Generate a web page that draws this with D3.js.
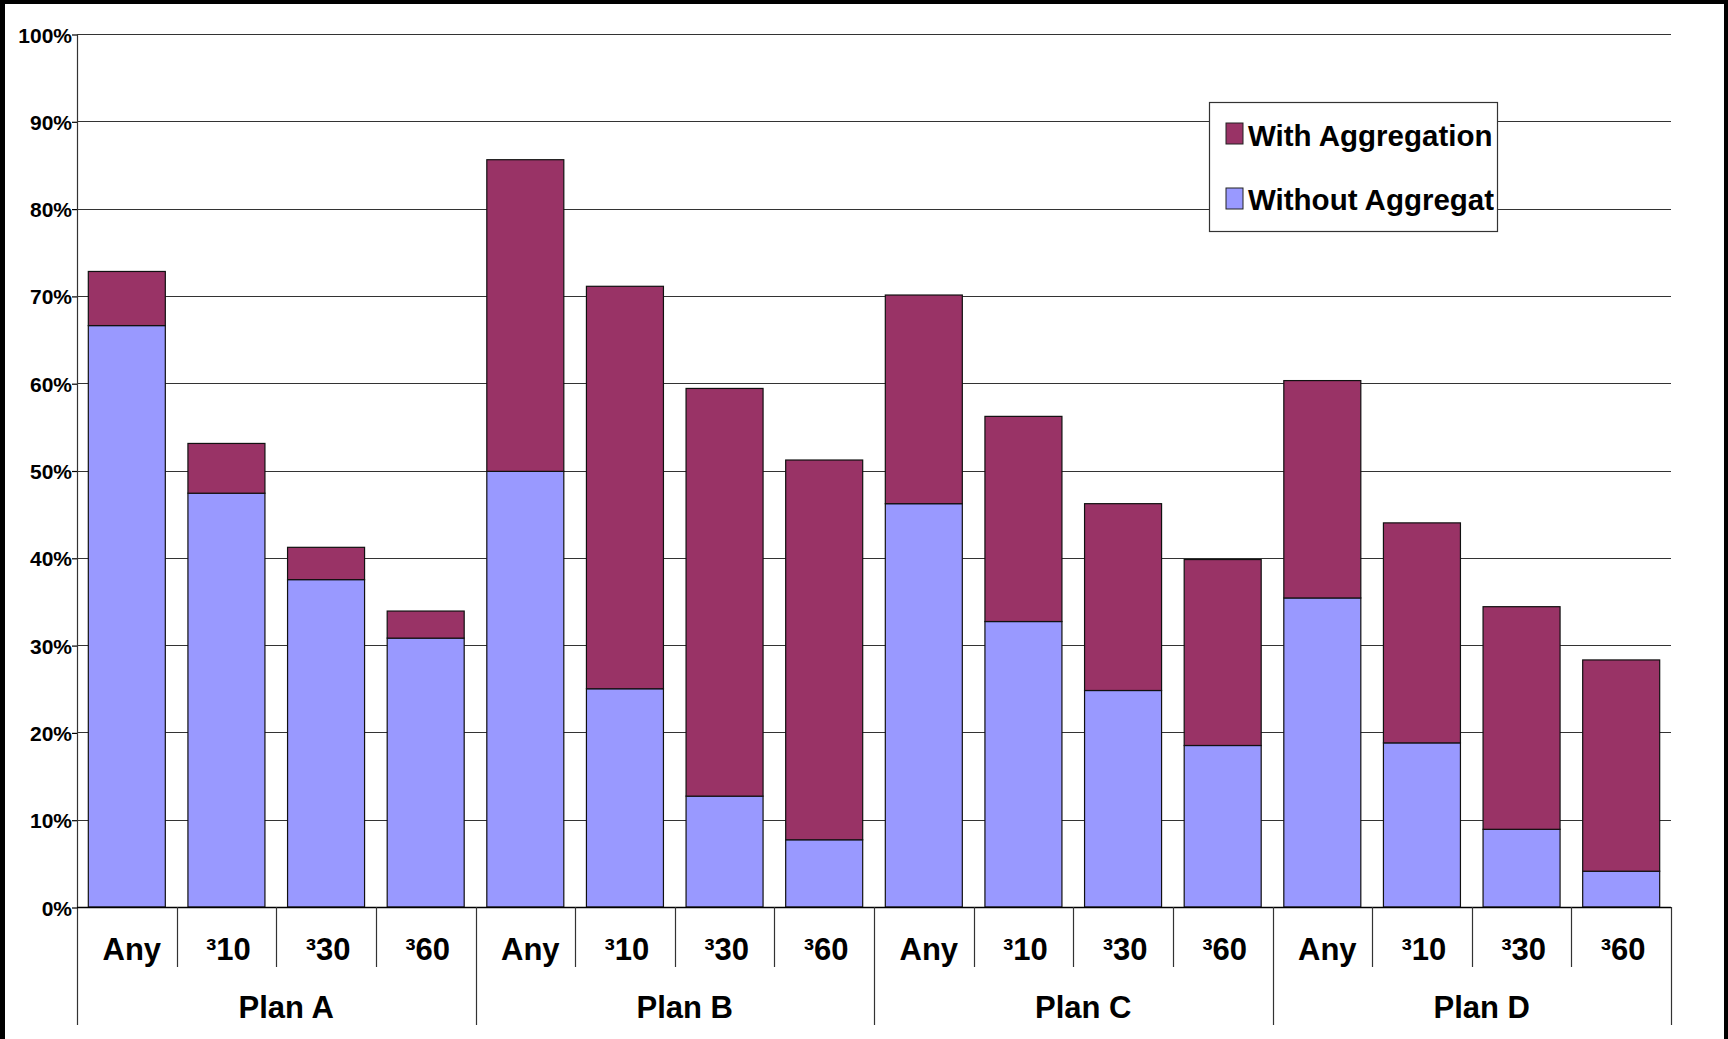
<!DOCTYPE html>
<html>
<head>
<meta charset="utf-8">
<script src="https://cdn.jsdelivr.net/npm/d3@7"></script>
<style>
  body { margin: 0; background: #fff; }
  svg { display: block; font-family: 'Liberation Sans', Arial, sans-serif; font-weight: bold; }
</style>
</head>
<body>
<svg id="chart"></svg>
<script>
var plans = ['Plan A', 'Plan B', 'Plan C', 'Plan D'];
var thresholds = ['Any', '³10', '³30', '³60'];
// percent values per bar, in plan order then threshold order
var withoutAgg = [66.6, 47.4, 37.5, 30.8,  49.9, 25.0, 12.7, 7.7,  46.2, 32.7, 24.8, 18.5,  35.4, 18.8, 8.9, 4.1];
var withAgg    = [6.2, 5.7, 3.7, 3.1,  35.7, 46.1, 46.7, 43.5,  23.9, 23.5, 21.4, 21.3,  24.9, 25.2, 25.5, 24.2];
var yTicks = [0, 10, 20, 30, 40, 50, 60, 70, 80, 90, 100];
var seriesNames = ['With Aggregation', 'Without Aggregation'];
var colors = { without: '#9999ff', with: '#993366' };

var W = 1728, H = 1039;
var plotLeft = 77, plotRight = 1671, plotTop = 34, plotBottom = 907;

var svg = d3.select('#chart').attr('width', W).attr('height', H);

// outer frame (black strips at left, top, right)
svg.append('rect').attr('x', 0).attr('y', 0).attr('width', W).attr('height', 4).attr('fill', '#000');
svg.append('rect').attr('x', 0).attr('y', 0).attr('width', 5).attr('height', H).attr('fill', '#000');
svg.append('rect').attr('x', W - 4).attr('y', 0).attr('width', 4).attr('height', H).attr('fill', '#000');

var data = [];
plans.forEach(function(p, i) {
    thresholds.forEach(function(t, j) {
        var k = i * thresholds.length + j;
        data.push({ key: p + '|' + t, plan: p, thr: t, without: withoutAgg[k], with: withAgg[k] });
    });
});

var x = d3.scaleBand()
    .domain(data.map(function(d) { return d.key; }))
    .range([plotLeft, plotRight])
    .paddingInner(0.227)
    .paddingOuter(0.1135);

var y = d3.scaleLinear().domain([0, 100]).range([plotBottom, plotTop]);

// gridlines
svg.append('g')
    .selectAll('line')
    .data(yTicks)
    .enter()
    .append('line')
    .attr('x1', plotLeft)
    .attr('x2', plotRight)
    .attr('y1', function(d) { return Math.round(y(d)) + 0.5; })
    .attr('y2', function(d) { return Math.round(y(d)) + 0.5; })
    .attr('stroke', '#333')
    .attr('stroke-width', 1.2);

// y axis
var yAxis = d3.axisLeft(y)
    .tickValues(yTicks)
    .tickSize(5)
    .tickFormat(function(d) { return d + '%'; });

var yg = svg.append('g')
    .attr('transform', 'translate(' + plotLeft + ',0.5)')
    .call(yAxis);
yg.select('.domain').remove();
yg.selectAll('.tick line').attr('stroke', '#000').attr('stroke-width', 1.2);
yg.selectAll('.tick text')
    .attr('x', -5)
    .attr('dy', '0.36em')
    .style('font-size', '21px')
    .style('font-family', "'Liberation Sans', Arial, sans-serif")
    .style('font-weight', 'bold')
    .attr('fill', '#000');

// bars
var bars = svg.append('g');
bars.selectAll('.without')
    .data(data)
    .enter()
    .append('rect')
    .attr('class', 'without')
    .attr('x', function(d) { return x(d.key); })
    .attr('width', x.bandwidth())
    .attr('y', function(d) { return y(d.without); })
    .attr('height', function(d) { return y(0) - y(d.without); })
    .attr('fill', colors.without)
    .attr('stroke', '#111')
    .attr('stroke-width', 1.2);

bars.selectAll('.with')
    .data(data)
    .enter()
    .append('rect')
    .attr('class', 'with')
    .attr('x', function(d) { return x(d.key); })
    .attr('width', x.bandwidth())
    .attr('y', function(d) { return y(d.without + d.with); })
    .attr('height', function(d) { return y(d.without) - y(d.without + d.with); })
    .attr('fill', colors.with)
    .attr('stroke', '#111')
    .attr('stroke-width', 1.2);

// left axis line + baseline
svg.append('line')
    .attr('x1', plotLeft + 0.5).attr('x2', plotLeft + 0.5)
    .attr('y1', plotTop).attr('y2', 1025)
    .attr('stroke', '#333').attr('stroke-width', 1.2);
svg.append('line')
    .attr('x1', plotLeft).attr('x2', plotRight)
    .attr('y1', plotBottom + 0.5).attr('y2', plotBottom + 0.5)
    .attr('stroke', '#000').attr('stroke-width', 1.5);

// category separators
var step = x.step();
var sepG = svg.append('g');
data.forEach(function(d, i) {
    var sx = x(d.key) + x.bandwidth() + (step - x.bandwidth()) / 2;
    var isGroupEnd = (i + 1) % thresholds.length === 0;
    sepG.append('line')
        .attr('x1', Math.round(sx) + 0.5).attr('x2', Math.round(sx) + 0.5)
        .attr('y1', plotBottom).attr('y2', isGroupEnd ? 1025 : 967)
        .attr('stroke', '#333').attr('stroke-width', 1.2);
});

// threshold labels
svg.append('g')
    .selectAll('text')
    .data(data)
    .enter()
    .append('text')
    .attr('x', function(d) { return x(d.key) + x.bandwidth() / 2 + (d.thr === 'Any' ? 5 : 2); })
    .attr('y', 960)
    .attr('text-anchor', 'middle')
    .style('font-size', '31px')
    .attr('fill', '#000')
    .text(function(d) { return d.thr; });

// plan labels
svg.append('g')
    .selectAll('text')
    .data(plans)
    .enter()
    .append('text')
    .attr('x', function(p) {
        var first = x(p + '|' + thresholds[0]);
        var last = x(p + '|' + thresholds[thresholds.length - 1]) + x.bandwidth();
        return (first + last) / 2 + 10;
    })
    .attr('y', 1018)
    .attr('text-anchor', 'middle')
    .style('font-size', '31px')
    .attr('fill', '#000')
    .text(function(p) { return p; });

// legend
var lx = 1209, ly = 102, lw = 288, lh = 129;
svg.append('clipPath').attr('id', 'legclip')
    .append('rect').attr('x', lx).attr('y', ly).attr('width', 285).attr('height', lh);
var legend = svg.append('g');
legend.append('rect')
    .attr('x', lx + 0.5).attr('y', ly + 0.5)
    .attr('width', lw).attr('height', lh)
    .attr('fill', '#fff').attr('stroke', '#333').attr('stroke-width', 1.2);

var legendItems = [
    { name: seriesNames[0], color: colors.with, y: 123, base: 146 },
    { name: seriesNames[1], color: colors.without, y: 188, base: 210 }
];
var li = legend.selectAll('.item')
    .data(legendItems)
    .enter()
    .append('g');
li.append('rect')
    .attr('x', 1226).attr('y', function(d) { return d.y; })
    .attr('width', 17).attr('height', 21)
    .attr('fill', function(d) { return d.color; })
    .attr('stroke', '#222').attr('stroke-width', 1);
li.append('text')
    .attr('x', 1248).attr('y', function(d) { return d.base; })
    .attr('clip-path', 'url(#legclip)')
    .style('font-size', '29.5px')
    .attr('fill', '#000')
    .text(function(d) { return d.name; });
</script>
</body>
</html>
